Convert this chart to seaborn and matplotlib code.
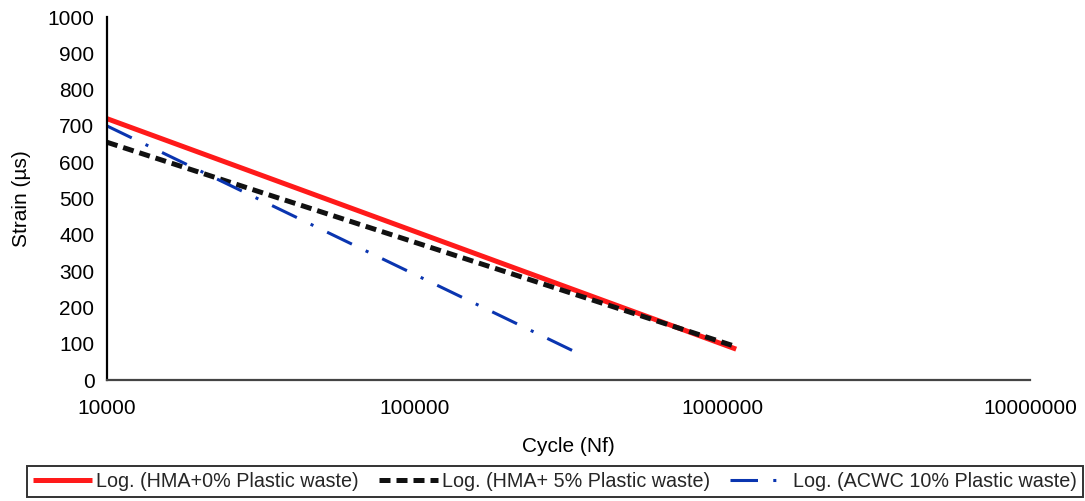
import matplotlib
matplotlib.use("Agg")
import matplotlib.pyplot as plt
from matplotlib.ticker import FixedLocator, FixedFormatter, NullLocator
import seaborn as sns
import pandas as pd

# Logarithmic fatigue trend lines: strain (µs) against cycles to failure (Nf)
hma0_cycles = [10000, 1110000]
hma0_strain = [720, 85]

hma5_cycles = [10000, 1080000]
hma5_strain = [655, 95]

acwc10_cycles = [10000, 347000]
acwc10_strain = [700, 70]

series_labels = [
    "Log. (HMA+0% Plastic waste)",
    "Log. (HMA+ 5% Plastic waste)",
    "Log. (ACWC 10% Plastic waste)",
]

x_ticks = [10000, 100000, 1000000, 10000000]
x_tick_labels = ["10000", "100000", "1000000", "10000000"]
y_ticks = [0, 100, 200, 300, 400, 500, 600, 700, 800, 900, 1000]

sns.set_theme(style="white")
plt.rcParams["font.family"] = ["Liberation Sans", "DejaVu Sans"]

fig = plt.figure(figsize=(10.85, 5.01), dpi=100)
ax = fig.add_axes([0.0986, 0.2415, 0.8506, 0.7245])

styles = [
    dict(color="#ff1a1a", linewidth=3.6, linestyle="-"),
    dict(color="#111111", linewidth=3.6, linestyle=(0, (2.2, 1.2))),
    dict(color="#0a35b0", linewidth=2.2, linestyle=(0, (9, 5, 1, 5))),
]
datasets = [
    (hma0_cycles, hma0_strain),
    (hma5_cycles, hma5_strain),
    (acwc10_cycles, acwc10_strain),
]
for (cx, cy), label, st in zip(datasets, series_labels, styles):
    df = pd.DataFrame({"Cycle": cx, "Strain": cy})
    sns.lineplot(data=df, x="Cycle", y="Strain", ax=ax, label=label,
                 solid_capstyle="butt", dash_capstyle="butt", **st)

ax.set_xscale("log")
ax.set_xlim(10000, 10000000)
ax.set_ylim(0, 1000)
ax.xaxis.set_major_locator(FixedLocator(x_ticks))
ax.xaxis.set_major_formatter(FixedFormatter(x_tick_labels))
ax.xaxis.set_minor_locator(NullLocator())
ax.set_yticks(y_ticks)

for side in ["top", "right"]:
    ax.spines[side].set_visible(False)
ax.spines["left"].set_color("#000000")
ax.spines["left"].set_linewidth(1.6)
ax.spines["bottom"].set_color("#444444")
ax.spines["bottom"].set_linewidth(1.6)

ax.tick_params(axis="both", which="major", direction="out", length=5,
               width=1.4, labelsize=15, colors="#000000", pad=4)
ax.tick_params(axis="x", pad=9)
ax.grid(False)

ax.set_xlabel("Cycle (Nf)", fontsize=15, labelpad=13, color="#000000")
ax.set_ylabel("Strain (µs)", fontsize=15, labelpad=12, color="#000000")

handles, labels = ax.get_legend_handles_labels()
ax.get_legend().remove()
leg = fig.legend(handles, labels, loc="center", bbox_to_anchor=(0.5115, 0.039),
                 ncol=3, frameon=True, fancybox=False, fontsize=14.2,
                 handlelength=3.0, handletextpad=0.2, columnspacing=1.0,
                 borderpad=0.3)
leg.get_frame().set_edgecolor("#000000")
leg.get_frame().set_linewidth(1.4)

fig.savefig("out.png", dpi=100)
